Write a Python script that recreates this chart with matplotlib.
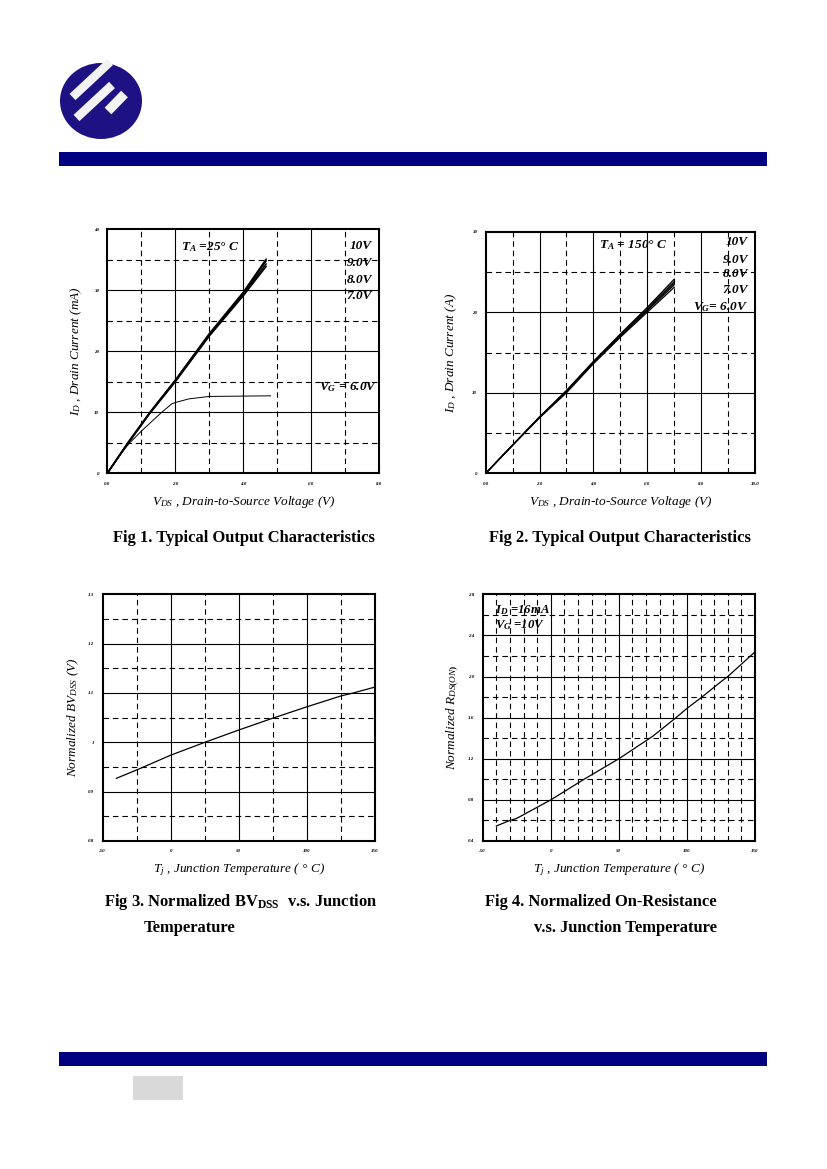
import matplotlib
matplotlib.use("Agg")
import matplotlib.pyplot as plt
from matplotlib.patches import Rectangle, Ellipse
from matplotlib.ticker import FixedLocator

plt.rcParams['font.family'] = ['Liberation Serif', 'DejaVu Serif']
plt.rcParams['mathtext.fontset'] = 'custom'
plt.rcParams['mathtext.rm'] = 'Liberation Serif:bold'
plt.rcParams['mathtext.it'] = 'Liberation Serif:italic'
plt.rcParams['mathtext.bf'] = 'Liberation Serif:bold:italic'

# ---------------- data ----------------
# Fig 1 : Typical output characteristics, TA = 25 C
fig1_vds = [0.0, 0.6, 1.25, 2.0, 3.0, 4.0, 4.67]
fig1_id_10v = [0.0, 5.0, 10.0, 15.3, 22.9, 29.7, 35.1]
fig1_id_9v = [0.0, 4.9, 9.9, 15.2, 22.8, 29.5, 34.8]
fig1_id_8v = [0.0, 4.9, 9.9, 15.1, 22.6, 29.3, 34.3]
fig1_id_7v = [0.0, 4.8, 9.8, 15.0, 22.5, 29.1, 33.9]
fig1_vds_6v = [0.0, 0.3, 0.66, 1.0, 1.6, 1.9, 2.0, 2.4, 3.0, 4.8]
fig1_id_6v = [0.0, 2.6, 5.0, 6.9, 10.0, 11.4, 11.6, 12.2, 12.6, 12.7]

# Fig 2 : Typical output characteristics, TA = 150 C
fig2_vds = [0.0, 1.0, 2.0, 3.0, 4.0, 5.0, 6.0, 7.0]
fig2_id_10v = [0.0, 3.5, 7.0, 10.3, 13.9, 17.3, 20.6, 24.1]
fig2_id_9v = [0.0, 3.5, 7.0, 10.2, 13.8, 17.2, 20.5, 23.8]
fig2_id_8v = [0.0, 3.5, 7.0, 10.2, 13.8, 17.1, 20.3, 23.6]
fig2_id_7v = [0.0, 3.5, 6.9, 10.1, 13.7, 17.0, 20.2, 23.4]
fig2_id_6v = [0.0, 3.5, 6.9, 10.0, 13.6, 16.9, 20.0, 23.1]

# Fig 3 : Normalized BVdss vs junction temperature
fig3_tj = [-40, -25, 0, 25, 50, 75, 100, 125, 134, 150]
fig3_bv = [0.927, 0.944, 0.974, 1.0, 1.025, 1.049, 1.072, 1.094, 1.100, 1.112]

# Fig 4 : Normalized Rds(on) vs junction temperature
fig4_tj = [-40, -30, -25, 0, 25, 50, 75, 92, 100, 111, 125, 130, 150]
fig4_r = [0.546, 0.60, 0.62, 0.80, 1.005, 1.20, 1.42, 1.60, 1.69, 1.80, 1.95, 2.00, 2.24]

# tick labels
fig1_xticks = [0.0, 2.0, 4.0, 6.0, 8.0]
fig1_xlabels = ['0.0', '2.0', '4.0', '6.0', '8.0']
fig1_yticks = [0, 10, 20, 30, 40]
fig1_ylabels = ['0', '10', '20', '30', '40']
fig2_xticks = [0.0, 2.0, 4.0, 6.0, 8.0, 10.0]
fig2_xlabels = ['0.0', '2.0', '4.0', '6.0', '8.0', '10.0']
fig2_yticks = [0, 10, 20, 30]
fig2_ylabels = ['0', '10', '20', '30']
temp_xticks = [-50, 0, 50, 100, 150]
temp_xlabels = ['-50', '0', '50', '100', '150']
fig3_yticks = [0.8, 0.9, 1.0, 1.1, 1.2, 1.3]
fig3_ylabels = ['0.8', '0.9', '1', '1.1', '1.2', '1.3']
fig4_yticks = [0.4, 0.8, 1.2, 1.6, 2.0, 2.4, 2.8]
fig4_ylabels = ['0.4', '0.8', '1.2', '1.6', '2.0', '2.4', '2.8']

# ---------------- figure ----------------
W, H = 827, 1169
fig = plt.figure(figsize=(W / 100, H / 100), dpi=100)

# page decorations in pixel coordinates
deco = fig.add_axes([0, 0, 1, 1])
deco.set_xlim(0, W)
deco.set_ylim(H, 0)
deco.axis('off')
navy = '#000080'
deco.add_patch(Rectangle((59, 152), 708, 14, color=navy, lw=0))
deco.add_patch(Rectangle((59, 1052), 708, 14, color=navy, lw=0))
deco.add_patch(Rectangle((133, 1076), 50, 24, color='#d9d9d9', lw=0))
deco.add_patch(Ellipse((101, 101), 82, 76, color='#1e1183', lw=0))
stripe = '#f2f2f2'
deco.plot([72.5, 110.0], [97.0, 62.0], color=stripe, lw=6.2, solid_capstyle='butt')
deco.plot([76.5, 112.0], [118.0, 85.0], color=stripe, lw=6.2, solid_capstyle='butt')
deco.plot([108.0, 124.5], [111.0, 94.0], color=stripe, lw=6.8, solid_capstyle='butt')


def px_axes(l, t, r, b):
    return fig.add_axes([l / W, 1 - b / H, (r - l) / W, (b - t) / H])


def style_axes(ax, xmaj, xmin, ymaj, ymin, xt, xl, yt, yl, xlim, ylim):
    ax.set_xlim(*xlim)
    ax.set_ylim(*ylim)
    ax.xaxis.set_major_locator(FixedLocator(xt))
    ax.yaxis.set_major_locator(FixedLocator(yt))
    ax.set_xticklabels(xl)
    ax.set_yticklabels(yl)
    for v in xmaj:
        ax.axvline(v, color='black', lw=0.8, zorder=1)
    for v in xmin:
        ax.axvline(v, color='black', lw=0.8, dashes=(5, 3.5), zorder=1)
    for v in ymaj:
        ax.axhline(v, color='black', lw=0.8, zorder=1)
    for v in ymin:
        ax.axhline(v, color='black', lw=0.8, dashes=(5, 3.5), zorder=1)
    ax.tick_params(which='both', length=0, labelsize=3.6, pad=6)
    for lab in ax.get_xticklabels() + ax.get_yticklabels():
        lab.set_fontweight('bold')
        lab.set_fontstyle('italic')
    for s in ax.spines.values():
        s.set_linewidth(1.5)
        s.set_zorder(5)


def set_labels(ax, xlabel, ylabel, xy, yx):
    ax.set_xlabel(xlabel, fontsize=9.5, fontstyle='italic')
    ax.set_ylabel(ylabel, fontsize=9.5, fontstyle='italic')
    ax.xaxis.label.set_va('center')
    ax.yaxis.label.set_va('center')
    ax.yaxis.label.set_ha('center')
    ax.xaxis.set_label_coords(0.5, xy)
    ax.yaxis.set_label_coords(yx, 0.5)


ann_kw = dict(fontsize=9.5, fontweight='bold', fontstyle='italic')
cap_kw = dict(fontsize=11.9, fontweight='bold')

# ---- Fig 1 ----
ax1 = px_axes(107.3, 229.3, 379.3, 473.3)
style_axes(ax1, [2, 4, 6], [1, 3, 5, 7], [10, 20, 30], [5, 15, 25, 35],
           fig1_xticks, fig1_xlabels, fig1_yticks, fig1_ylabels, (0, 8), (0, 40))
for ys in (fig1_id_10v, fig1_id_9v, fig1_id_8v, fig1_id_7v):
    ax1.plot(fig1_vds, ys, color='black', lw=1.1, zorder=3)
ax1.plot(fig1_vds_6v, fig1_id_6v, color='black', lw=0.7, zorder=3)
set_labels(ax1, r'$V_{DS}$ , Drain-to-Source Voltage (V)',
           r'$I_D$ , Drain Current (mA)', (473.3 - 502) / 244, -0.115)
ax1.text(2.17, 37.1, r'$\mathbf{T}_{\mathbf{A}}$ =25° C', ha='left', va='center',
         zorder=6, **ann_kw)
for txt, yv in (('10V', 37.3), ('9.0V', 34.5), ('8.0V', 31.7), ('7.0V', 29.1)):
    ax1.text(7.78, yv, txt, ha='right', va='center', zorder=6, **ann_kw)
ax1.text(7.93, 14.1, r'$\mathbf{V}_{\mathbf{G}}$ = 6.0V', ha='right', va='center',
         zorder=6, **ann_kw)
fig.text(244 / W, 1 - 538 / H, 'Fig 1. Typical Output Characteristics',
         ha='center', va='center', **cap_kw)

# ---- Fig 2 ----
ax2 = px_axes(485.7, 231.7, 755, 473.3)
style_axes(ax2, [2, 4, 6, 8], [1, 3, 5, 7, 9], [10, 20], [5, 15, 25],
           fig2_xticks, fig2_xlabels, fig2_yticks, fig2_ylabels, (0, 10), (0, 30))
for ys in (fig2_id_10v, fig2_id_9v, fig2_id_8v, fig2_id_7v, fig2_id_6v):
    ax2.plot(fig2_vds, ys, color='black', lw=0.9, zorder=3)
set_labels(ax2, r'$V_{DS}$ , Drain-to-Source Voltage (V)',
           r'$I_D$ , Drain Current (A)', (473.3 - 502) / 241.6, -0.129)
ax2.text(4.2, 28.3, r'$\mathbf{T}_{\mathbf{A}}$ = 150° C', ha='left', va='center',
         zorder=6, **ann_kw)
for txt, yv in (('10V', 28.7), ('9.0V', 26.5), ('8.0V', 24.8), ('7.0V', 22.8)):
    ax2.text(9.75, yv, txt, ha='right', va='center', zorder=6, **ann_kw)
ax2.text(9.75, 20.6, r'$\mathbf{V}_{\mathbf{G}}$= 6.0V', ha='right', va='center',
         zorder=6, **ann_kw)
fig.text(620 / W, 1 - 538 / H, 'Fig 2. Typical Output Characteristics',
         ha='center', va='center', **cap_kw)

# ---- Fig 3 ----
ax3 = px_axes(102.7, 594.3, 375, 841)
style_axes(ax3, [0, 50, 100], [-25, 25, 75, 125], [0.9, 1.0, 1.1, 1.2],
           [0.85, 0.95, 1.05, 1.15, 1.25],
           temp_xticks, temp_xlabels, fig3_yticks, fig3_ylabels, (-50, 150), (0.8, 1.3))
ax3.plot(fig3_tj, fig3_bv, color='black', lw=0.9, zorder=3)
set_labels(ax3, r'$T_j$ , Junction Temperature ( ° C)',
           r'Normalized $BV_{DSS}$ (V)', (841 - 870) / 246.7, -0.109)
fig.text(241 / W, 1 - 902 / H, r'Fig 3. Normalized BV$_{\mathrm{DSS}}$  v.s. Junction',
         ha='center', va='center', **cap_kw)
fig.text(189.5 / W, 1 - 928 / H, 'Temperature', ha='center', va='center', **cap_kw)

# ---- Fig 4 ----
ax4 = px_axes(482.7, 594.3, 755, 841)
style_axes(ax4, [0, 50, 100], [v for v in range(-40, 150, 10) if v % 50 != 0],
           [0.8, 1.2, 1.6, 2.0, 2.4], [0.6, 1.0, 1.4, 1.8, 2.2, 2.6],
           temp_xticks, temp_xlabels, fig4_yticks, fig4_ylabels, (-50, 150), (0.4, 2.8))
ax4.plot(fig4_tj, fig4_r, color='black', lw=0.9, zorder=3)
set_labels(ax4, r'$T_j$ , Junction Temperature ( ° C)',
           r'Normalized $R_{DS(ON)}$', (841 - 870) / 246.7, -0.109)
ax4.text(-41, 2.65, r'$\mathbf{I}_{\mathbf{D}}$ =16mA', ha='left', va='center', zorder=6,
         fontsize=9.2, fontweight='bold', fontstyle='italic')
ax4.text(-41, 2.50, r'$\mathbf{V}_{\mathbf{G}}$ =10V', ha='left', va='center', zorder=6,
         fontsize=9.2, fontweight='bold', fontstyle='italic')
fig.text(600.5 / W, 1 - 902 / H, 'Fig 4. Normalized On-Resistance',
         ha='center', va='center', **cap_kw)
fig.text(625.5 / W, 1 - 928 / H, 'v.s. Junction Temperature', ha='center', va='center',
         **cap_kw)

fig.savefig('out.png', dpi=100)
